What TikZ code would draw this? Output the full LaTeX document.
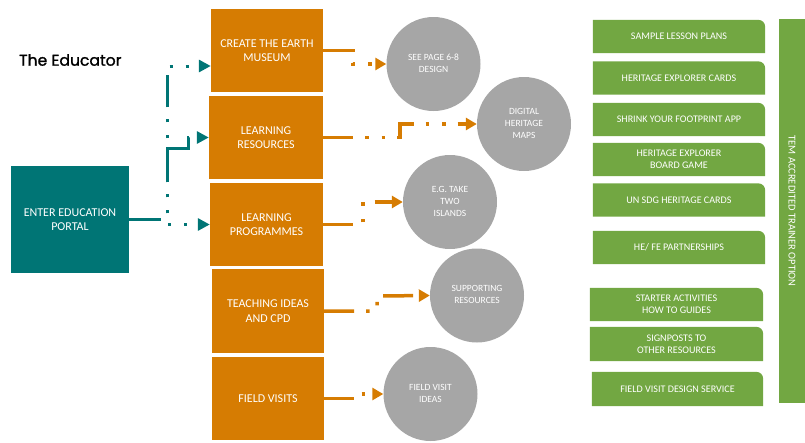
\documentclass[tikz,border=0pt]{standalone}
\usepackage{fontspec}
\usepackage{graphicx}
\setmainfont{Carlito}
\newfontfamily\popfont{Poppins}[FakeBold=1.2]
\usetikzlibrary{arrows.meta,backgrounds}
\definecolor{eorange}{RGB}{214,124,2}
\definecolor{eteal}{RGB}{0,117,117}
\definecolor{egreen}{RGB}{114,167,66}
\definecolor{egray}{RGB}{166,166,166}
\newcommand{\ctext}[1]{\raisebox{3pt}{\fontsize{9.5}{11.7}\selectfont\begin{tabular}{@{}c@{}}#1\end{tabular}}}
\begin{document}
\begin{tikzpicture}[x=1pt,y=-1pt,
  obox/.style={fill=eorange, text=white, align=center, inner sep=0pt,
    minimum width=113pt, minimum height=83pt, font=\fontsize{12}{14.4}\selectfont},
  tbox/.style={fill=eteal, text=white, align=center, inner sep=0pt,
    minimum width=118pt, minimum height=107pt, font=\fontsize{12}{14.4}\selectfont},
  gcirc/.style={circle, fill=egray, text=white, inner sep=0pt, minimum size=94pt,
    font=\fontsize{9.5}{11.7}\selectfont},
  gbox/.style={text=white, align=center, inner sep=0pt, minimum width=172pt,
    minimum height=33pt, font=\fontsize{10.1}{11.7}\selectfont},
  tealline/.style={draw=eteal, line width=3pt,
    dash pattern=on 32pt off 12pt on 3pt off 13pt on 3pt off 12pt,
    -{Triangle[length=12pt,width=12pt]}},
  orline/.style={draw=eorange, line width=3.5pt,
    dash pattern=on 30pt off 12pt on 3.5pt off 13pt on 3.5pt off 12pt,
    -{Triangle[length=11pt,width=12pt]}}
]
\useasboundingbox (0,0) rectangle (805,442);

% title
\node[anchor=west, font=\popfont\fontsize{15.6}{19}\selectfont, inner sep=0pt] (title) at (19,60) {The Educator};

% portal
\node[tbox] (portal) at (70,219.5) {ENTER EDUCATION\\PORTAL};

% orange boxes
\node[obox, minimum width=112pt] (create) at (267,50.5) {CREATE THE EARTH\\MUSEUM};
\node[obox, minimum width=114pt] (lres) at (266,137.5) {LEARNING\\RESOURCES};
\node[obox] (lprog) at (266.5,224.5) {LEARNING\\PROGRAMMES};
\node[obox, minimum width=112pt, minimum height=84pt] (teach) at (268,311) {TEACHING IDEAS\\AND CPD};
\node[obox, minimum width=112pt] (field) at (268,398.5) {FIELD VISITS};

% circles
\node[gcirc] (c1) at (433.5,64) {\ctext{SEE PAGE 6-8\\DESIGN}};
\node[gcirc] (c2) at (524,124) {\ctext{DIGITAL\\HERITAGE\\MAPS}};
\node[gcirc] (c3) at (450,202) {\ctext{E.G. TAKE\\TWO\\ISLANDS}};
\node[gcirc] (c4) at (477,295.5) {\ctext{SUPPORTING\\RESOURCES}};
\node[gcirc] (c5) at (430.5,394) {\ctext{FIELD VISIT\\IDEAS}};

% green boxes
\node[gbox] (g1) at (679,36.5) {SAMPLE LESSON PLANS};
\node[gbox] (g2) at (679,78) {HERITAGE EXPLORER CARDS};
\node[gbox] (g3) at (679,119.5) {SHRINK YOUR FOOTPRINT APP};
\node[gbox] (g4) at (679,159.5) {HERITAGE EXPLORER\\BOARD GAME};
\node[gbox] (g5) at (679,200) {UN SDG HERITAGE CARDS};
\node[gbox] (g6) at (679,247.5) {HE/ FE PARTNERSHIPS};
\node[gbox, minimum width=173pt] (g7) at (676.5,304.5) {STARTER ACTIVITIES\\HOW TO GUIDES};
\node[gbox, minimum width=173pt, minimum height=34pt] (g8) at (676.5,344) {SIGNPOSTS TO\\OTHER RESOURCES};
\node[gbox, minimum width=171pt, minimum height=34pt] (g9) at (677.5,389) {FIELD VISIT DESIGN SERVICE};

\begin{scope}[on background layer]
\foreach \n in {g1,g2,g3,g4,g5,g6,g7,g8,g9}
  \fill[egreen] (\n.south west) -- (\n.north west) -- ([xshift=-7pt]\n.north east)
     arc[start angle=90, end angle=0, radius=7pt] -- (\n.south east) -- cycle;
\end{scope}

% TEM bar
\node[fill=egreen, text=white, inner sep=0pt, minimum width=26pt, minimum height=384pt,
  font=\fontsize{10.5}{12}\selectfont] (tem) at (792,211) {\rotatebox{-90}{TEM ACCREDITED TRAINER OPTION}};

% teal connectors
\draw[tealline] (portal.east) -- (167,219.5) -- (167,66) -- ([yshift=-15.5pt]create.west);
\draw[tealline] (portal.east) -- (167,219.5) -- (167,224.5) -- (lprog.west);
\draw[tealline, dash pattern=on 32pt off 12pt on 3pt off 13pt on 3pt off 12pt on 66pt off 40pt]
  (portal.east) -- (167,219.5) -- (167,148) -- (188,148) -- (188,137.5) -- (lres.west);

% orange connectors
\draw[orline] (create.east) -- (353,50.5) -- (353,64) -- (c1.west);
\draw[orline] (lres.east) -- (400,137.5) -- (400,124) -- (c2.west);
\draw[orline] (lprog.east) -- (363,224.5) -- (363,202) -- (c3.west);
\draw[orline] (teach.east) -- (377,311) -- (377,296) -- (c4.west);
\draw[orline] (field.east) -- (356,398.5) -- (356,394) -- (c5.west);
\end{tikzpicture}
\end{document}
